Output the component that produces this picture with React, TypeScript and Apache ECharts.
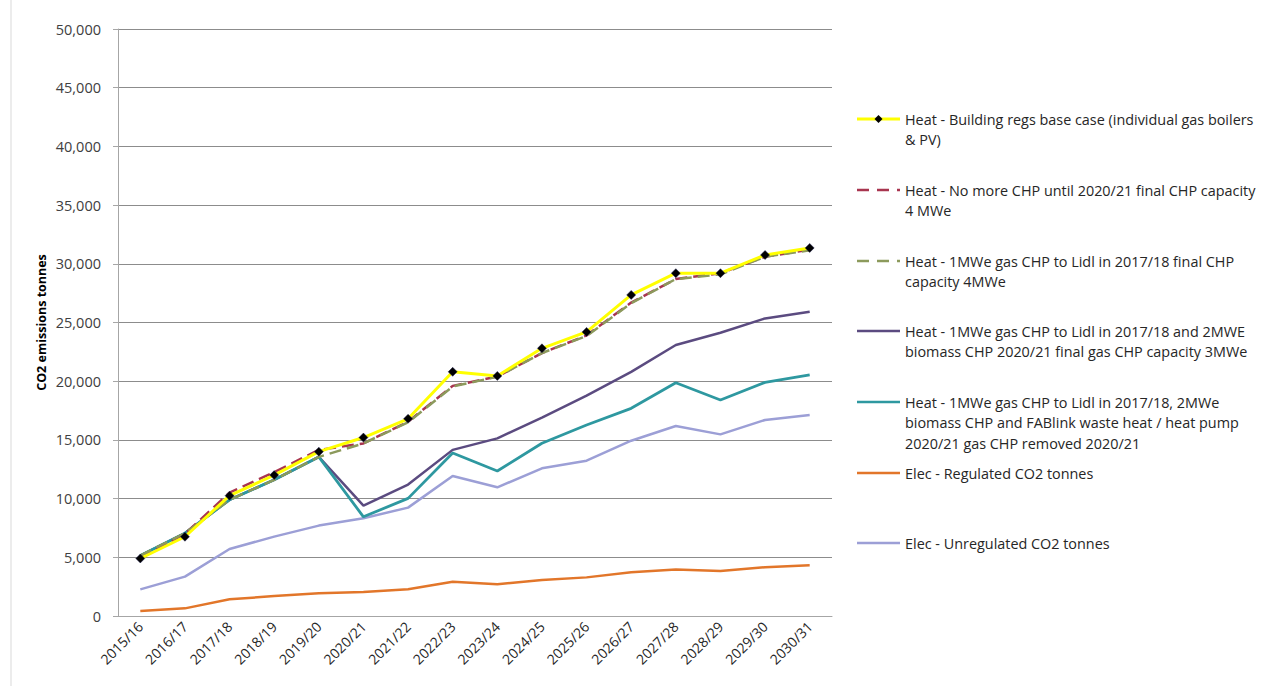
import React, { useEffect, useRef } from "react";
import * as echarts from "echarts";

const categories = [
  "2015/16", "2016/17", "2017/18", "2018/19", "2019/20", "2020/21", "2021/22", "2022/23",
  "2023/24", "2024/25", "2025/26", "2026/27", "2027/28", "2028/29", "2029/30", "2030/31",
];

const buildingRegs = [4900, 6750, 10250, 12000, 14000, 15200, 16800, 20800, 20450, 22800, 24200, 27350, 29200, 29200, 30750, 31350];
const noMoreChp = [4900, 7000, 10500, 12250, 14150, 14700, 16550, 19600, 20400, 22400, 23900, 26700, 28700, 29200, 30600, 31200];
const gasChpLidl = [5150, 7050, 9900, 11600, 13550, 14700, 16500, 19550, 20380, 22400, 23850, 26650, 28700, 29100, 30600, 31150];
const biomassChp = [5150, 7050, 9900, 11600, 13550, 9400, 11200, 14150, 15130, 16900, 18770, 20800, 23080, 24130, 25350, 25920];
const fablink = [5150, 7050, 9900, 11600, 13550, 8450, 10020, 13880, 12350, 14710, 16270, 17690, 19870, 18400, 19900, 20530];
const elecRegulated = [430, 650, 1420, 1700, 1930, 2040, 2270, 2920, 2700, 3070, 3290, 3720, 3970, 3830, 4150, 4320];
const elecUnregulated = [2270, 3350, 5710, 6760, 7700, 8320, 9230, 11920, 10960, 12580, 13230, 14930, 16180, 15470, 16700, 17120];

const names = {
  buildingRegs: "Heat - Building regs base case (individual gas boilers\n& PV)",
  noMoreChp: "Heat - No more CHP until 2020/21 final CHP capacity\n4 MWe",
  gasChpLidl: "Heat - 1MWe gas CHP to Lidl in 2017/18 final CHP\ncapacity 4MWe",
  biomassChp: "Heat - 1MWe gas CHP to Lidl in 2017/18 and 2MWE\nbiomass CHP 2020/21 final gas CHP capacity 3MWe",
  fablink: "Heat - 1MWe gas CHP to Lidl in 2017/18, 2MWe\nbiomass CHP and FABlink waste heat / heat pump\n2020/21 gas CHP removed 2020/21",
  elecRegulated: "Elec - Regulated CO2 tonnes",
  elecUnregulated: "Elec - Unregulated CO2 tonnes",
};

const colors = {
  buildingRegs: "#FFFF00",
  noMoreChp: "#A8354F",
  gasChpLidl: "#8C9A5C",
  biomassChp: "#5B4B80",
  fablink: "#2E98A0",
  elecRegulated: "#E2762A",
  elecUnregulated: "#9C9FD6",
};

const legendOrder = ["buildingRegs", "noMoreChp", "gasChpLidl", "biomassChp", "fablink", "elecRegulated", "elecUnregulated"];
const legendY = [119, 190, 261, 331, 402, 473, 543];

const FONT = "'Open Sans', 'Noto Sans', sans-serif";

export default function App() {
  const ref = useRef<HTMLDivElement>(null);

  useEffect(() => {
    if (!ref.current) return;
    const chart = echarts.init(ref.current, null, { renderer: "svg" });

    const mk = (key: string, data: number[], extra: any = {}) => ({
      name: names[key],
      type: "line",
      data,
      symbol: "none",
      lineStyle: { color: colors[key], width: 2.5 },
      itemStyle: { color: colors[key] },
      ...extra,
    });

    const graphic: any[] = [
      { type: "line", shape: { x1: 11, y1: 0, x2: 11, y2: 686 }, style: { stroke: "#D9D9D9", lineWidth: 1 } },
    ];
    legendOrder.forEach((key, i) => {
      const y = legendY[i];
      const dashed = key === "noMoreChp" || key === "gasChpLidl";
      graphic.push({
        type: "line",
        shape: { x1: 857, y1: y, x2: 900, y2: y },
        style: {
          stroke: colors[key],
          lineWidth: key === "buildingRegs" ? 3 : 2.5,
          lineDash: dashed ? [12, 8] : null,
        },
      });
      if (key === "buildingRegs") {
        graphic.push({
          type: "polygon",
          shape: { points: [[878.5, y - 4], [882.5, y], [878.5, y + 4], [874.5, y]] },
          style: { fill: "#000000" },
        });
      }
      graphic.push({
        type: "text",
        x: 905,
        y: y - 10,
        style: {
          text: names[key],
          fill: "#262626",
          font: `14.4px ${FONT}`,
          lineHeight: 20.5,
          verticalAlign: "top",
        },
      });
    });

    chart.setOption({
      animation: false,
      backgroundColor: "#FFFFFF",
      grid: { left: 118, right: 444, top: 29, bottom: 70 },
      xAxis: {
        type: "category",
        data: categories,
        boundaryGap: true,
        axisLine: { lineStyle: { color: "#A6A6A6", width: 1 } },
        axisTick: { show: false },
        axisLabel: { rotate: 45, color: "#262626", fontSize: 14, fontFamily: FONT, margin: 8, interval: 0 },
      },
      yAxis: {
        type: "value",
        min: 0,
        max: 50000,
        interval: 5000,
        name: "CO2 emissions tonnes",
        nameLocation: "middle",
        nameGap: 70,
        nameRotate: 90,
        nameMoveOverlap: false,
        nameTextStyle: { fontWeight: "bold", fontSize: 12.5, color: "#000000", fontFamily: FONT },
        axisLine: { show: true, lineStyle: { color: "#A6A6A6", width: 1 } },
        axisTick: { show: true, length: 5, lineStyle: { color: "#A6A6A6" } },
        splitLine: { lineStyle: { color: "#8C8C8C", width: 1 } },
        axisLabel: {
          color: "#404040",
          fontSize: 14.5,
          fontFamily: FONT,
          margin: 17,
          formatter: (v: number) => v.toLocaleString("en-US"),
        },
      },
      graphic,
      series: [
        mk("elecRegulated", elecRegulated),
        mk("elecUnregulated", elecUnregulated),
        mk("biomassChp", biomassChp),
        mk("fablink", fablink, { lineStyle: { color: colors.fablink, width: 2.8 } }),
        mk("noMoreChp", noMoreChp, { lineStyle: { color: colors.noMoreChp, width: 2.5, type: [12, 6] } }),
        mk("gasChpLidl", gasChpLidl, { lineStyle: { color: colors.gasChpLidl, width: 2.5, type: [12, 6] } }),
        mk("buildingRegs", buildingRegs, {
          symbol: "diamond",
          symbolSize: 9,
          itemStyle: { color: "#000000", borderColor: "#1F1F4F", borderWidth: 0.5 },
          lineStyle: { color: colors.buildingRegs, width: 3 },
          z: 5,
        }),
      ],
    });

    return () => chart.dispose();
  }, []);

  return <div ref={ref} style={{ position: "fixed", left: 0, top: 0, width: 1276, height: 686 }} />;
}
